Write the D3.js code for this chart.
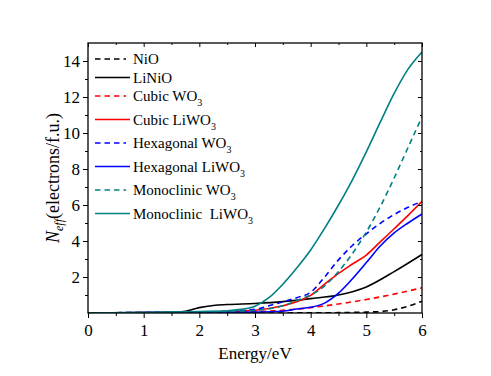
<!DOCTYPE html>
<html>
<head>
<meta charset="utf-8">
<script src="https://cdn.jsdelivr.net/npm/d3@7"></script>
<style>
    body { margin: 0; background: #fff; }
    svg text { font-family: "Liberation Serif", "Times New Roman", Times, serif; fill: #000; }
</style>
</head>
<body>
<div id="chart"></div>
<script>
(function() {
    'use strict';

    // Data (energy in eV, N_eff in electrons/f.u.)
    var nio = [[0, 0], [3, 0], [4, 0.01], [4.5, 0.02], [5, 0.05], [5.25, 0.08], [5.5, 0.18], [5.75, 0.38], [6, 0.65]];
    var liNio = [[0, 0], [1, 0.02], [1.5, 0.04], [1.75, 0.1], [2, 0.3], [2.25, 0.42], [2.5, 0.47], [3, 0.53], [3.5, 0.63], [4, 0.8], [4.5, 1.0], [5, 1.45], [5.5, 2.3], [6, 3.25]];
    var cubicWo3 = [[0.2, 0], [1, 0.02], [2, 0.04], [3, 0.08], [3.5, 0.15], [4, 0.3], [4.5, 0.5], [5, 0.75], [5.5, 1.05], [6, 1.4]];
    var cubicLiWo3 = [[0.2, 0], [1, 0.02], [2, 0.04], [2.5, 0.08], [3, 0.15], [3.5, 0.4], [3.75, 0.62], [4, 0.98], [4.25, 1.6], [4.5, 2.2], [4.75, 2.72], [5, 3.22], [5.25, 3.95], [5.5, 4.68], [5.75, 5.42], [6, 6.2]];
    var hexWo3 = [[0, 0], [1, 0.03], [2, 0.05], [2.5, 0.1], [3, 0.2], [3.25, 0.4], [3.5, 0.62], [3.75, 0.85], [4, 1.15], [4.25, 2.0], [4.5, 2.95], [4.75, 3.75], [5, 4.4], [5.25, 4.98], [5.5, 5.47], [5.75, 5.87], [6, 6.2]];
    var hexLiWo3 = [[0, 0], [1, 0.02], [2, 0.03], [3, 0.05], [3.5, 0.1], [3.75, 0.22], [4, 0.32], [4.25, 0.55], [4.5, 1.1], [4.75, 1.9], [5, 2.8], [5.25, 3.72], [5.5, 4.45], [5.75, 5.0], [6, 5.5]];
    var monoWo3 = [[0, 0], [1, 0.03], [2, 0.05], [2.5, 0.08], [3, 0.15], [3.5, 0.4], [3.75, 0.7], [4, 1.0], [4.25, 1.5], [4.5, 2.3], [4.75, 3.3], [5, 4.5], [5.25, 5.9], [5.5, 7.5], [5.75, 9.2], [6, 10.9]];
    var monoLiWo3 = [[0, 0], [1, 0.03], [1.5, 0.05], [2, 0.08], [2.5, 0.12], [2.75, 0.2], [3, 0.38], [3.25, 0.85], [3.5, 1.6], [3.75, 2.5], [4, 3.5], [4.25, 4.7], [4.5, 6.0], [4.75, 7.4], [5, 8.95], [5.25, 10.6], [5.5, 12.2], [5.75, 13.55], [6, 14.5]];

    var seriesNames = [["NiO", ""], ["LiNiO", ""], ["Cubic WO", "3"], ["Cubic LiWO", "3"], ["Hexagonal WO", "3"], ["Hexagonal LiWO", "3"], ["Monoclinic WO", "3"], ["Monoclinic  LiWO", "3"]];
    var seriesData = [nio, liNio, cubicWo3, cubicLiWo3, hexWo3, hexLiWo3, monoWo3, monoLiWo3];
    var seriesColors = ["#000000", "#000000", "#ff0000", "#ff0000", "#0000ff", "#0000ff", "#008080", "#008080"];
    var seriesDashed = [true, false, true, false, true, false, true, false];

    var xTicks = [0, 1, 2, 3, 4, 5, 6];
    var xMinor = [0.5, 1.5, 2.5, 3.5, 4.5, 5.5];
    var yTicks = [2, 4, 6, 8, 10, 12, 14];
    var yMinor = [1, 3, 5, 7, 9, 11, 13];

    // Layout
    var width = 491, height = 376;
    var margin = { left: 88, right: 69, top: 43, bottom: 63 };
    var plotW = width - margin.left - margin.right;
    var plotH = height - margin.top - margin.bottom;
    var serif = "'Liberation Serif', 'Times New Roman', Times, serif";

    var svg = d3.select("#chart").append("svg")
        .attr("width", width)
        .attr("height", height)
        .attr("font-family", serif);

    var g = svg.append("g")
        .attr("transform", "translate(" + margin.left + "," + margin.top + ")");

    var xScale = d3.scaleLinear().domain([0, 6]).range([0, plotW]);
    var yScale = d3.scaleLinear().domain([0, 15]).range([plotH, 0]);

    // Curves
    var lineFunction = d3.line()
        .curve(d3.curveMonotoneX)
        .x(function(d) { return xScale(d[0]); })
        .y(function(d) { return yScale(d[1]); });

    var clip = svg.append("defs").append("clipPath").attr("id", "plot-clip");
    clip.append("rect").attr("x", 0).attr("y", 0).attr("width", plotW).attr("height", plotH);

    var curves = g.append("g").attr("clip-path", "url(#plot-clip)");
    for (var i = 0; i < seriesData.length; i++) {
        curves.append("path")
            .datum(seriesData[i])
            .attr("fill", "none")
            .attr("stroke", seriesColors[i])
            .attr("stroke-width", 1.6)
            .attr("stroke-dasharray", seriesDashed[i] ? "5.5,4" : null)
            .attr("d", lineFunction);
    }

    // Axes
    var styleAxis = function(sel) {
        sel.attr("font-family", serif);
        sel.select(".domain").remove();
        sel.selectAll("line").attr("stroke", "#000").attr("stroke-width", 1);
        sel.selectAll("text").style("font-family", serif).style("font-size", "17px").attr("fill", "#000");
    };

    g.append("g")
        .attr("transform", "translate(0," + plotH + ")")
        .call(d3.axisBottom(xScale).tickValues(xTicks).tickSize(5).tickPadding(6).tickFormat(d3.format("d")))
        .call(styleAxis);
    g.append("g")
        .attr("transform", "translate(0," + plotH + ")")
        .call(d3.axisBottom(xScale).tickValues(xMinor).tickSize(3).tickFormat(""))
        .call(styleAxis);
    g.append("g")
        .call(d3.axisLeft(yScale).tickValues(yTicks).tickSize(5).tickPadding(3).tickFormat(d3.format("d")))
        .call(styleAxis);
    g.append("g")
        .call(d3.axisLeft(yScale).tickValues(yMinor).tickSize(3).tickFormat(""))
        .call(styleAxis);

    // Mirror ticks, inward
    g.append("g")
        .call(d3.axisBottom(xScale).tickValues(xTicks).tickSize(4).tickFormat(""))
        .call(styleAxis);
    g.append("g")
        .call(d3.axisBottom(xScale).tickValues(xMinor).tickSize(2).tickFormat(""))
        .call(styleAxis);
    g.append("g")
        .attr("transform", "translate(" + plotW + ",0)")
        .call(d3.axisLeft(yScale).tickValues(yTicks).tickSize(4).tickFormat(""))
        .call(styleAxis);
    g.append("g")
        .attr("transform", "translate(" + plotW + ",0)")
        .call(d3.axisLeft(yScale).tickValues(yMinor).tickSize(2).tickFormat(""))
        .call(styleAxis);

    // Frame
    g.append("rect")
        .attr("x", 0).attr("y", 0)
        .attr("width", plotW).attr("height", plotH)
        .attr("fill", "none")
        .attr("stroke", "#000")
        .attr("stroke-width", 1.3);

    // Axis titles
    svg.append("text")
        .attr("x", margin.left + plotW / 2)
        .attr("y", 359)
        .attr("text-anchor", "middle")
        .style("font-size", "17px")
        .text("Energy/eV");

    var yTitle = svg.append("text")
        .attr("transform", "translate(59," + (margin.top + plotH / 2) + ") rotate(-90)")
        .attr("text-anchor", "middle")
        .style("font-size", "18px");
    yTitle.append("tspan").style("font-style", "italic").text("N");
    yTitle.append("tspan").style("font-style", "italic").style("font-size", "12px").attr("dy", 4).text("eff");
    yTitle.append("tspan").attr("dy", -4).text("(electrons/f.u.)");

    // Legend
    var legend = g.append("g").attr("transform", "translate(7,16)");
    var ly = 0;
    for (var k = 0; k < seriesNames.length; k++) {
        legend.append("line")
            .attr("x1", 0).attr("x2", seriesDashed[k] ? 31 : 35)
            .attr("y1", ly).attr("y2", ly)
            .attr("stroke", seriesColors[k])
            .attr("stroke-width", 1.6)
            .attr("stroke-dasharray", seriesDashed[k] ? "5.5,4" : null);
        var lt = legend.append("text")
            .attr("x", 38)
            .attr("y", ly + 5)
            .style("font-size", "15px")
            .style("white-space", "pre")
            .attr("xml:space", "preserve");
        lt.append("tspan").text(seriesNames[k][0]);
        if (seriesNames[k][1]) {
            lt.append("tspan").attr("dy", 5).style("font-size", "10px").text(seriesNames[k][1]);
        }
        ly += seriesNames[k][1] ? 23.5 : 18.5;
    }
})();
</script>
</body>
</html>
